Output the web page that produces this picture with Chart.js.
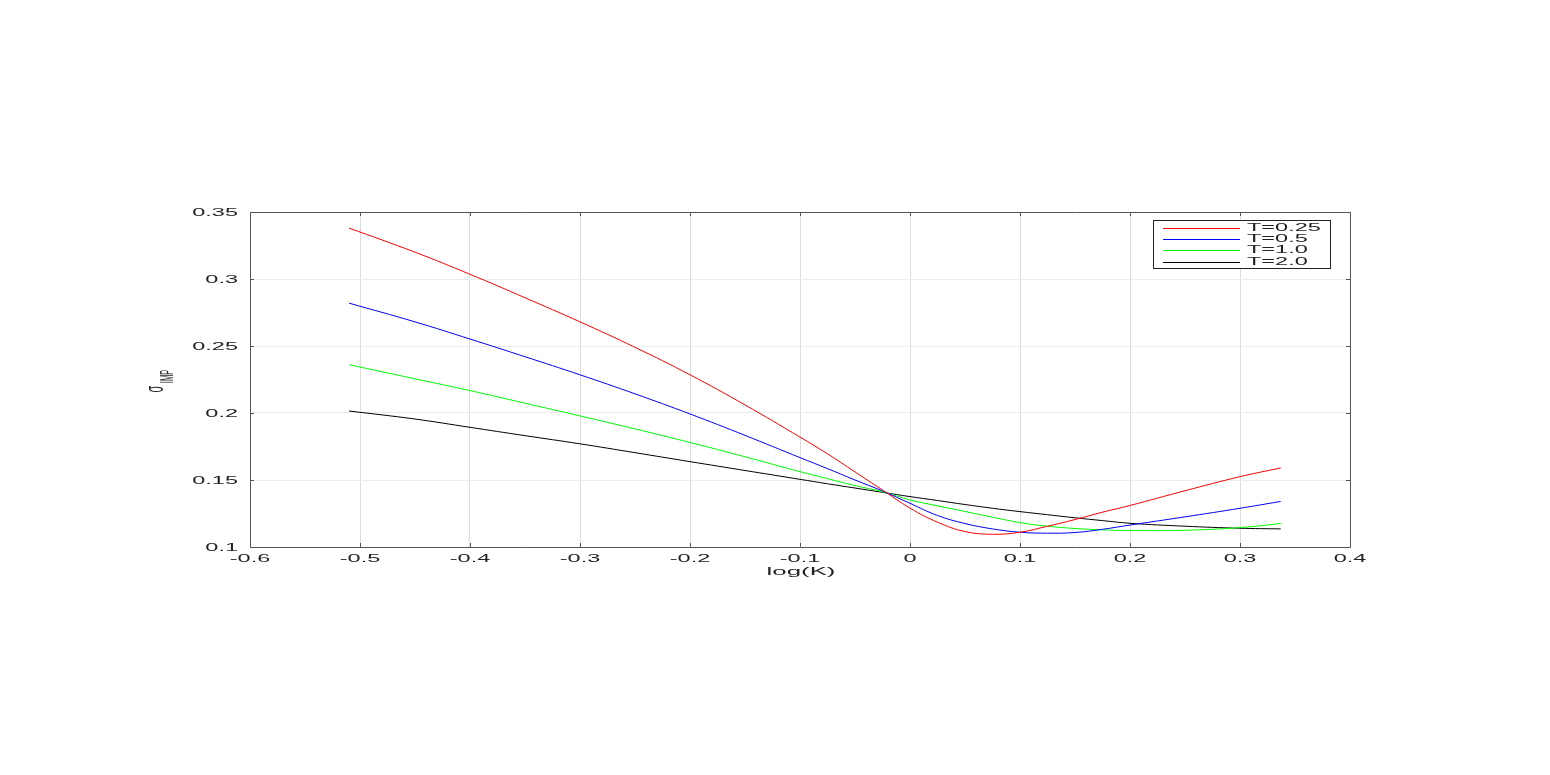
<!DOCTYPE html>
<html>
<head>
<meta charset="utf-8">
<script src="https://cdn.jsdelivr.net/npm/chart.js@4.4.0/dist/chart.umd.min.js"></script>
<style>
  html, body { margin: 0; background: #fff; }
  #wrap { width: 1550px; height: 775px; }
</style>
</head>
<body>
<div id="wrap"><canvas id="smile"></canvas></div>
<script>
// log-moneyness grid
const logK = [-0.51, -0.45, -0.4, -0.35, -0.3, -0.25, -0.2, -0.15, -0.1, -0.075, -0.05, -0.025, 0,
  0.025, 0.05, 0.075, 0.1, 0.125, 0.15, 0.175, 0.2, 0.25, 0.3, 0.337];

// implied vol per maturity
const volT025 = [0.338, 0.320, 0.3035, 0.286, 0.268, 0.249, 0.2285, 0.206, 0.182, 0.1695, 0.156, 0.1425, 0.129,
  0.1185, 0.1115, 0.1095, 0.111, 0.1155, 0.1205, 0.126, 0.131, 0.142, 0.1525, 0.159];
const volT05 = [0.282, 0.268, 0.2552, 0.242, 0.2285, 0.2143, 0.1993, 0.1833, 0.1667, 0.1585, 0.150, 0.1418, 0.1326,
  0.1235, 0.1175, 0.1135, 0.111, 0.1103, 0.1108, 0.1132, 0.1164, 0.1225, 0.1289, 0.134];
const volT1 = [0.236, 0.2255, 0.2167, 0.2073, 0.1978, 0.1881, 0.178, 0.1673, 0.1562, 0.151, 0.1458, 0.1412, 0.1351,
  0.1307, 0.1265, 0.1222, 0.1182, 0.1155, 0.1138, 0.1128, 0.1123, 0.1125, 0.1145, 0.1175];
const volT2 = [0.2015, 0.1955, 0.1893, 0.1831, 0.177, 0.1704, 0.1637, 0.1571, 0.1505, 0.1472, 0.144, 0.1408, 0.1376,
  0.1347, 0.1317, 0.1289, 0.1264, 0.1241, 0.1218, 0.1197, 0.1177, 0.1155, 0.114, 0.1135];

const seriesLabels = ['T=0.25', 'T=0.5', 'T=1.0', 'T=2.0'];
const seriesColors = ['#ff0000', '#0000ff', '#00ff00', '#000000'];

const xTicks = [-0.6, -0.5, -0.4, -0.3, -0.2, -0.1, 0, 0.1, 0.2, 0.3, 0.4];
const yTicks = [0.1, 0.15, 0.2, 0.25, 0.3, 0.35];

// the reference text is stretched sideways
const STRETCH = 2.35;
const FONT = '"Liberation Sans", Arial, sans-serif';
const TEXT_COLOR = '#222';

function fmt(v) {
  return String(Math.round(v * 100) / 100);
}

function stretchedText(ctx, text, x, y, align, size) {
  ctx.save();
  ctx.translate(x, y);
  ctx.scale(STRETCH, 1);
  ctx.font = size + 'px ' + FONT;
  ctx.fillStyle = TEXT_COLOR;
  ctx.textAlign = align;
  ctx.textBaseline = 'middle';
  ctx.fillText(text, 0, 0);
  ctx.restore();
}

// box, inward ticks, tick labels and axis titles
const axesPlugin = {
  id: 'axesBox',
  afterDatasetsDraw(chart) {
    const ctx = chart.ctx;
    const a = chart.chartArea;
    const xs = chart.scales.x;
    const ys = chart.scales.y;
    const tl = 4;

    ctx.save();
    ctx.strokeStyle = '#555';
    ctx.lineWidth = 1;
    ctx.beginPath();
    ctx.rect(Math.round(a.left) + 0.5, Math.round(a.top) + 0.5,
      Math.round(a.right - a.left), Math.round(a.bottom - a.top));
    xs.ticks.forEach(t => {
      const px = Math.round(xs.getPixelForValue(t.value)) + 0.5;
      ctx.moveTo(px, a.bottom); ctx.lineTo(px, a.bottom - tl);
      ctx.moveTo(px, a.top); ctx.lineTo(px, a.top + tl);
    });
    ys.ticks.forEach(t => {
      const py = Math.round(ys.getPixelForValue(t.value)) + 0.5;
      ctx.moveTo(a.left, py); ctx.lineTo(a.left + tl, py);
      ctx.moveTo(a.right, py); ctx.lineTo(a.right - tl, py);
    });
    ctx.stroke();
    ctx.restore();

    xs.ticks.forEach(t => {
      stretchedText(ctx, fmt(t.value), xs.getPixelForValue(t.value), a.bottom + 12, 'center', 10);
    });
    ys.ticks.forEach(t => {
      stretchedText(ctx, fmt(t.value), a.left - 12, ys.getPixelForValue(t.value) + 1.5, 'right', 10);
    });

    stretchedText(ctx, 'log(K)', (a.left + a.right) / 2 + 1, a.bottom + 25, 'center', 11);

    // sigma with IMP subscript, rotated
    ctx.save();
    ctx.fillStyle = TEXT_COLOR;
    ctx.textAlign = 'center';
    ctx.textBaseline = 'middle';
    ctx.translate(158, 389);
    ctx.rotate(-Math.PI / 2);
    ctx.scale(1, STRETCH);
    ctx.font = '11px ' + FONT;
    ctx.fillText('σ', 0, -1);
    ctx.restore();
    ctx.save();
    ctx.fillStyle = TEXT_COLOR;
    ctx.textAlign = 'center';
    ctx.textBaseline = 'middle';
    ctx.translate(168.5, 376.5);
    ctx.rotate(-Math.PI / 2);
    ctx.scale(1, STRETCH);
    ctx.font = '7.5px ' + FONT;
    ctx.fillText('IMP', 0, 0);
    ctx.restore();
  }
};

// boxed legend in the top right corner
const legendPlugin = {
  id: 'boxLegend',
  afterDraw(chart) {
    const ctx = chart.ctx;
    const left = 1153.5, top = 220.5, w = 177, h = 48;
    ctx.save();
    ctx.fillStyle = '#fff';
    ctx.fillRect(left, top, w, h);
    ctx.strokeStyle = '#222';
    ctx.lineWidth = 1;
    ctx.strokeRect(left, top, w, h);
    chart.data.datasets.forEach((ds, i) => {
      const y = Math.round(227.5 + i * 11.4) + 0.5;
      ctx.strokeStyle = ds.borderColor;
      ctx.beginPath();
      ctx.moveTo(1163, y);
      ctx.lineTo(1240, y);
      ctx.stroke();
      stretchedText(ctx, ds.label, 1247, y, 'left', 10);
    });
    ctx.restore();
  }
};

const seriesValues = [volT025, volT05, volT1, volT2];

new Chart(document.getElementById('smile'), {
  type: 'line',
  data: {
    datasets: seriesLabels.map((label, i) => ({
      label: label,
      data: logK.map((k, j) => ({ x: k, y: seriesValues[i][j] })),
      borderColor: seriesColors[i],
      backgroundColor: seriesColors[i],
      borderWidth: 1,
      pointRadius: 0,
      tension: 0.4,
      fill: false
    }))
  },
  options: {
    responsive: true,
    maintainAspectRatio: false,
    animation: false,
    layout: { padding: { left: 250, right: 200, top: 212, bottom: 228 } },
    plugins: {
      legend: { display: false },
      tooltip: { enabled: false }
    },
    scales: {
      x: {
        type: 'linear',
        min: -0.6,
        max: 0.4,
        afterBuildTicks: s => { s.ticks = xTicks.map(v => ({ value: v })); },
        afterFit: s => { s.height = 0; },
        ticks: { display: false },
        border: { display: false },
        grid: { color: '#dcdcdc', drawTicks: false }
      },
      y: {
        type: 'linear',
        min: 0.1,
        max: 0.35,
        afterBuildTicks: s => { s.ticks = yTicks.map(v => ({ value: v })); },
        afterFit: s => { s.width = 0; },
        ticks: { display: false },
        border: { display: false },
        grid: { color: '#ececec', drawTicks: false }
      }
    }
  },
  plugins: [axesPlugin, legendPlugin]
});
</script>
</body>
</html>
